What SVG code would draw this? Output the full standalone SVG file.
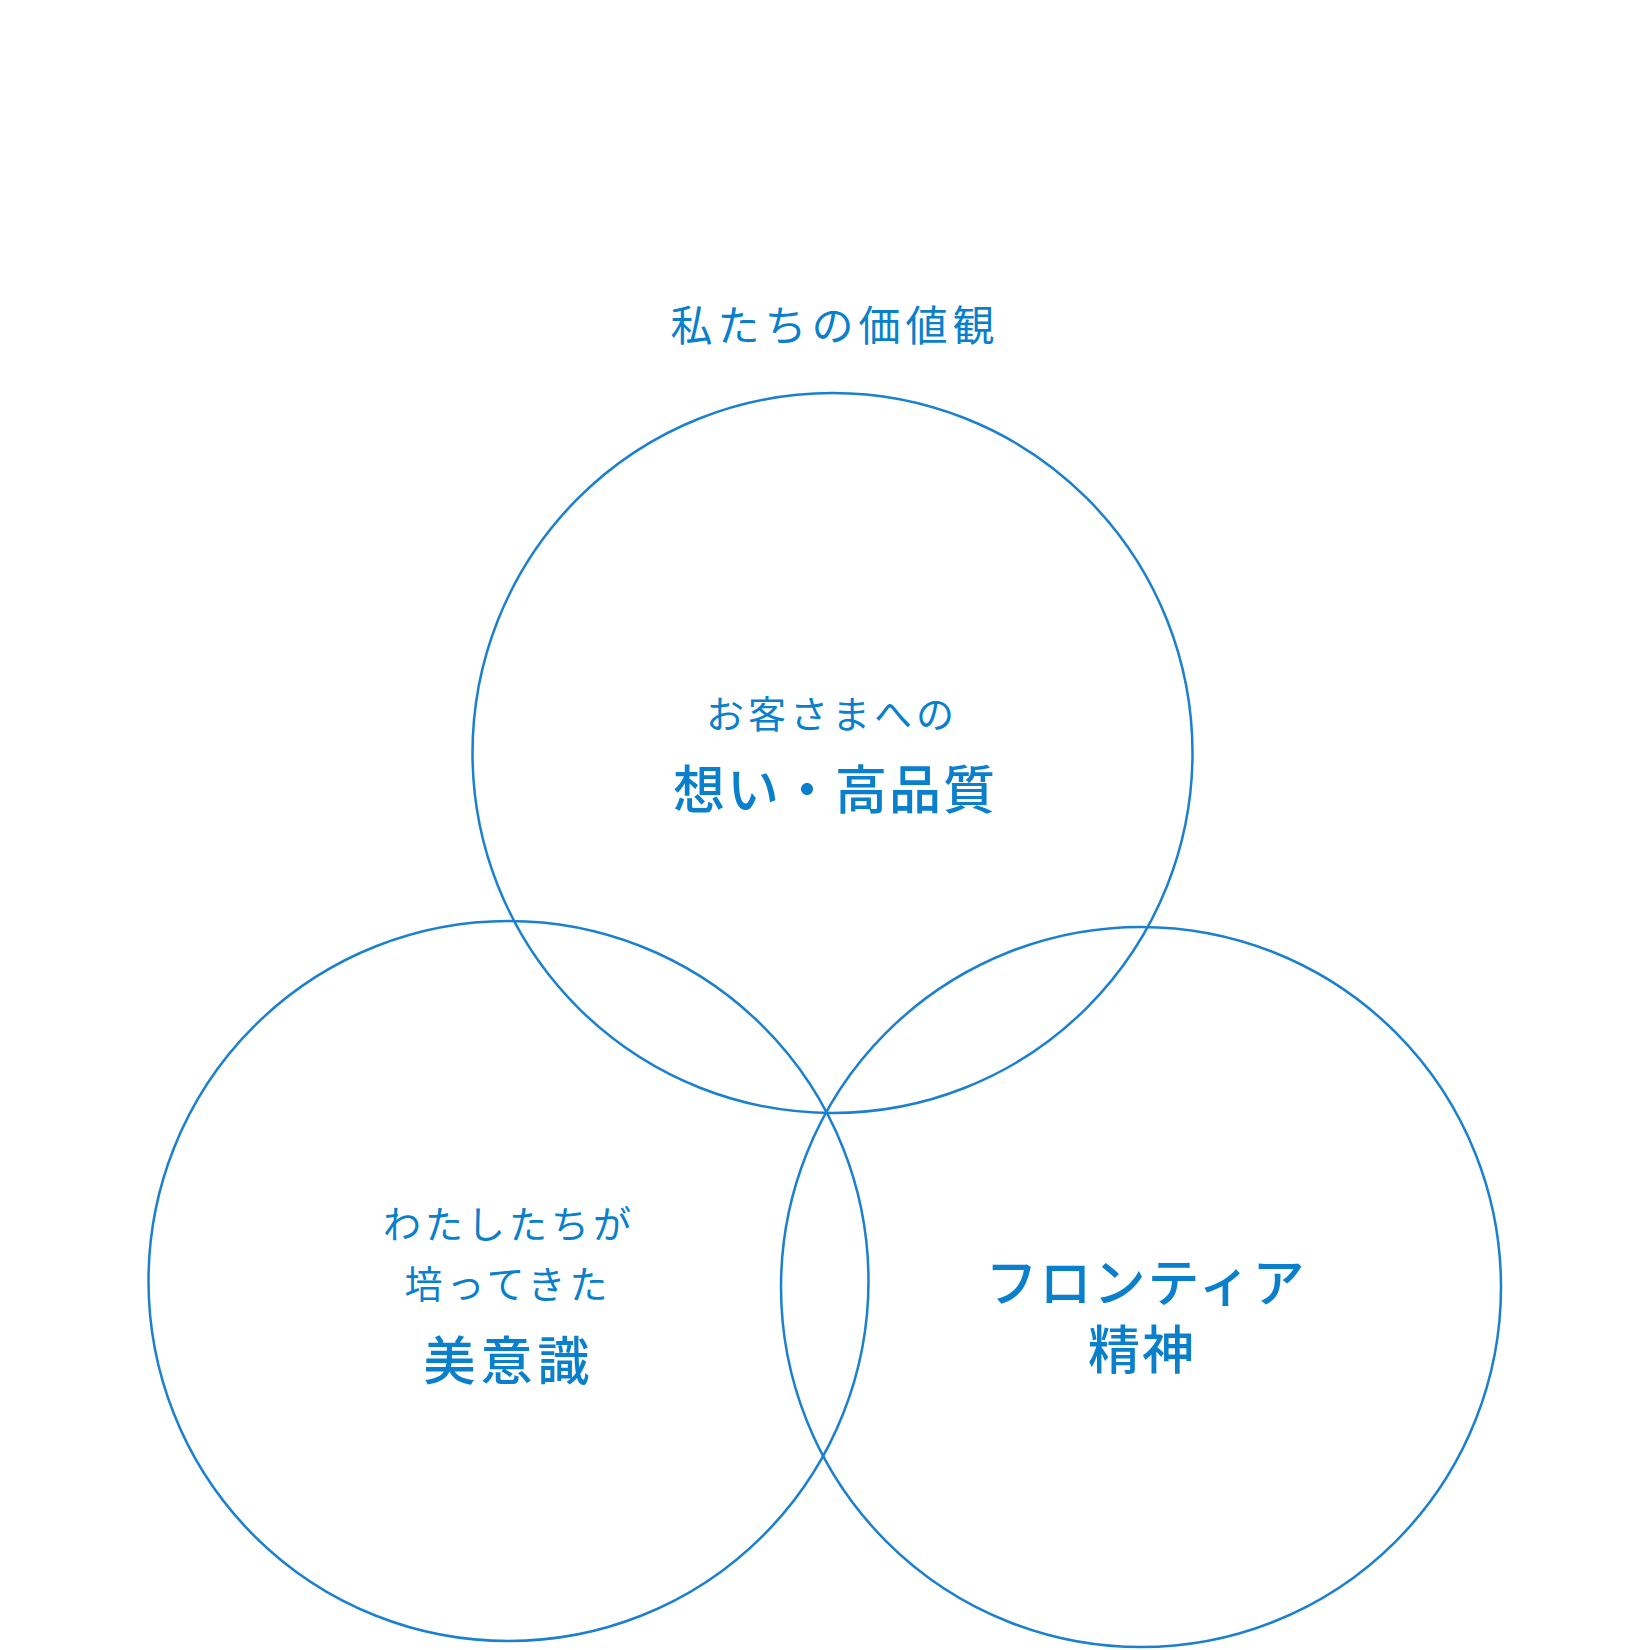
<svg xmlns="http://www.w3.org/2000/svg" width="1650" height="1650" viewBox="0 0 1650 1650">
<style>
.c{fill:none;stroke:#1a80cf;stroke-width:2.5}
text{font-family:"Noto Sans CJK JP","Noto Sans",sans-serif;fill:#0a7fcc;text-anchor:middle}
.s{font-size:38px;letter-spacing:4px}
.t{font-size:42px;letter-spacing:5px}
.b{font-size:52px;font-weight:500;letter-spacing:2px}
</style>
<rect width="1650" height="1650" fill="#fff"/>
<text class="t" x="835" y="341">私たちの価値観</text>
<g id="top">
<circle class="c" cx="832.5" cy="753" r="360"/>
<text class="s" x="832" y="728">お客さまへの</text>
<text class="b" x="835" y="809">想い・高品質</text>
</g>
<g id="left">
<circle class="c" cx="508.5" cy="1281" r="360"/>
<text class="s" x="509" y="1238">わたしたちが</text>
<text class="s" x="508" y="1298">培ってきた</text>
<text class="b" x="509" y="1380" style="letter-spacing:5px">美意識</text>
</g>
<g id="right">
<circle class="c" cx="1141" cy="1287" r="360"/>
<text class="b" x="1146" y="1302">フロンティア</text>
<text class="b" x="1142" y="1369">精神</text>
</g>
<g id="connectors"></g>
</svg>
